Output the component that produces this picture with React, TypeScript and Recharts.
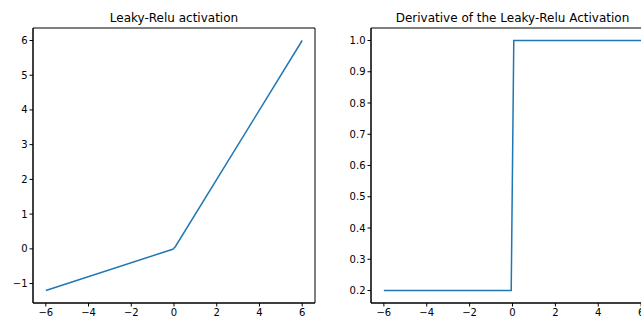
import { LineChart, Line, XAxis, YAxis, ReferenceArea } from 'recharts'

// sample points
const xValues = [-6, -0.06, 0.06, 6]
const activationValues = [-1.2, -0.012, 0.06, 6]
const derivativeValues = [0.2, 0.2, 1, 1]

const xTicks = [-6, -4, -2, 0, 2, 4, 6]
const activationTicks = [-1, 0, 1, 2, 3, 4, 5, 6]
const derivativeTicks = [0.2, 0.3, 0.4, 0.5, 0.6, 0.7, 0.8, 0.9, 1.0]

const activationData = xValues.map((x, i) => ({ x, y: activationValues[i] }))
const derivativeData = xValues.map((x, i) => ({ x, y: derivativeValues[i] }))

const font = 'DejaVu Sans, sans-serif'
const tickStyle = { fontSize: 10, fill: '#000', fontFamily: font }
const blue = '#1f77b4'
const xDomain: [number, number] = [-6.6, 6.6]

const fmtX = (v: number) => (v < 0 ? '\u2212' + Math.abs(v) : String(v))

function Panel({
  data,
  left,
  yWidth,
  rightMargin,
  yDomain,
  yTicks,
  yFormat,
  title,
}: {
  data: { x: number; y: number }[]
  left: number
  yWidth: number
  rightMargin: number
  yDomain: [number, number]
  yTicks: number[]
  yFormat: (v: number) => string
  title: string
}) {
  const width = 330
  const plotLeft = yWidth
  const plotRight = width - rightMargin
  return (
    <div style={{ position: 'absolute', left, top: 0, width, height: 322 }}>
      <div
        style={{
          position: 'absolute',
          top: 11,
          left: plotLeft,
          width: plotRight - plotLeft,
          textAlign: 'center',
          fontFamily: font,
          fontSize: 12,
          lineHeight: '14px',
          color: '#000',
          whiteSpace: 'nowrap',
        }}
      >
        {title}
      </div>
      <LineChart width={width} height={322} data={data} margin={{ top: 28, right: rightMargin, bottom: 0, left: 0 }}>
        <XAxis
          dataKey="x"
          type="number"
          domain={xDomain}
          allowDataOverflow
          ticks={xTicks}
          tickFormatter={fmtX}
          height={19}
          tickSize={3.5}
          tickMargin={2}
          tick={tickStyle}
          stroke="#000"
        />
        <YAxis
          type="number"
          domain={yDomain}
          allowDataOverflow
          ticks={yTicks}
          tickFormatter={yFormat}
          width={yWidth}
          tickSize={3.5}
          tickMargin={2}
          tick={tickStyle}
          stroke="#000"
        />
        {/* full frame round the plot, like matplotlib spines */}
        <ReferenceArea
          x1={xDomain[0]}
          x2={xDomain[1]}
          y1={yDomain[0]}
          y2={yDomain[1]}
          fill="none"
          stroke="#000"
          strokeWidth={1}
          ifOverflow="visible"
        />
        <Line
          dataKey="y"
          type="linear"
          stroke={blue}
          strokeWidth={1.5}
          dot={false}
          isAnimationActive={false}
        />
      </LineChart>
    </div>
  )
}

export default function App() {
  return (
    <div
      style={{
        position: 'absolute',
        left: 0,
        top: 0,
        width: 641,
        height: 322,
        overflow: 'hidden',
        background: '#fff',
      }}
    >
      <Panel
        data={activationData}
        left={0}
        yWidth={33}
        rightMargin={15}
        yDomain={[-1.56, 6.36]}
        yTicks={activationTicks}
        yFormat={fmtX}
        title="Leaky-Relu activation"
      />
      <Panel
        data={derivativeData}
        left={330}
        yWidth={41}
        rightMargin={6}
        yDomain={[0.16, 1.04]}
        yTicks={derivativeTicks}
        yFormat={(v) => v.toFixed(1)}
        title="Derivative of the Leaky-Relu Activation"
      />
    </div>
  )
}
